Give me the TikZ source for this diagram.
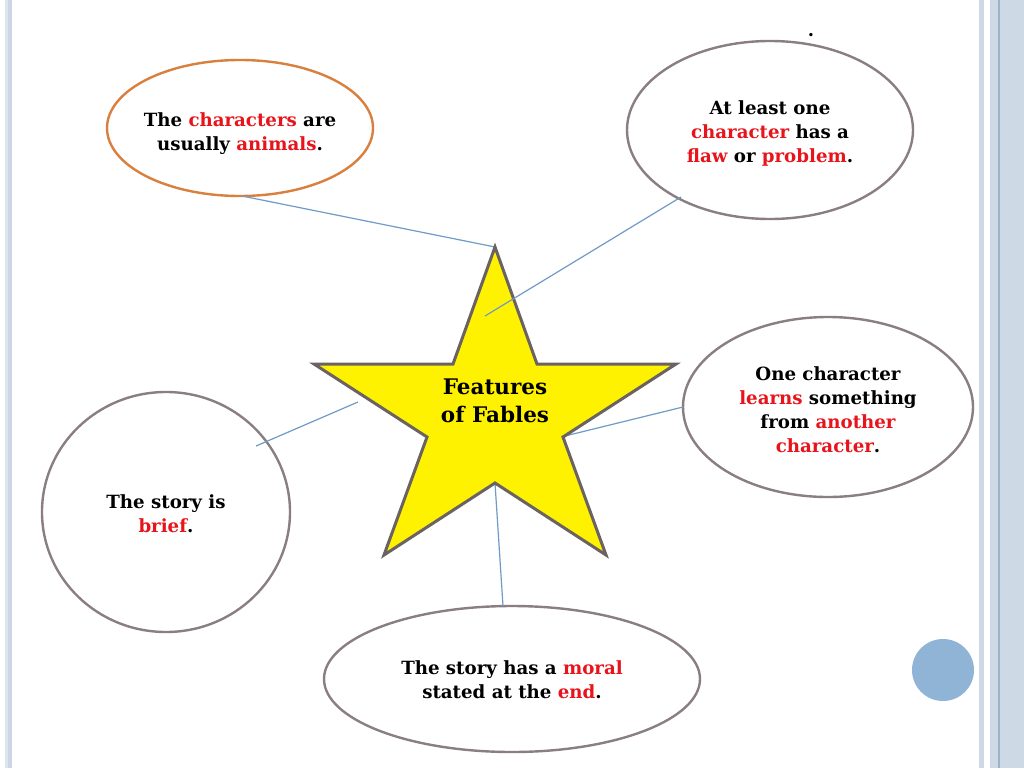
\documentclass[tikz,border=0pt]{standalone}
\usepackage{fontspec}
\setmainfont{DejaVu Serif}
\definecolor{bar}{HTML}{CDD9E5}
\definecolor{barl}{HTML}{DCE6EE}
\definecolor{barm}{HTML}{CDD6E8}
\definecolor{bard}{HTML}{9FB2C6}
\definecolor{edge}{HTML}{8A7E80}
\definecolor{orng}{HTML}{D9803E}
\definecolor{conn}{HTML}{6F9BC6}
\definecolor{txtred}{HTML}{E8141B}
\definecolor{dotblue}{HTML}{8FB4D6}
\definecolor{stedge}{HTML}{6B6262}
\newcommand{\rd}[1]{\textcolor{txtred}{#1}}
\tikzset{
  bubble/.style={draw=edge, line width=2.4pt, fill=white},
  txt/.style={align=center, font=\bfseries\fontsize{18.2}{24}\selectfont, text=black},
  conline/.style={draw=conn, line width=1.2pt},
}
\begin{document}
\begin{tikzpicture}[x=1pt,y=-1pt]
\useasboundingbox (0,0) rectangle (1024,768);
\fill[white] (0,0) rectangle (1024,768);
% side bars
\fill[barl] (5,0) rectangle (8,768);
\fill[barm] (8,0) rectangle (12,768);
\fill[bar] (979,0) rectangle (984,768);
\fill[bar] (990,0) rectangle (1024,768);
\fill[bard] (998,0) rectangle (999.5,768);
% connectors (behind)
\coordinate (c1a) at (242,196); \coordinate (c1b) at (495,247);
\coordinate (c2a) at (681,197); \coordinate (c2b) at (485,316);
\coordinate (c3a) at (256,446); \coordinate (c3b) at (358,402);
\coordinate (c4a) at (683,407); \coordinate (c4b) at (565,436);
\coordinate (c5a) at (503,606); \coordinate (c5b) at (495,483);
% ellipses
\draw[bubble, draw=orng] (240,128) ellipse [x radius=133, y radius=68];
\node[txt] (e1) at (240,133.5) {The \rd{characters} are\\usually \rd{animals}.};
\draw[bubble] (770,130) ellipse [x radius=143, y radius=89];
\node[txt] (e2) at (770,133) {At least one\\\rd{character} has a\\\rd{flaw} or \rd{problem}.};
\draw[bubble] (828,407) ellipse [x radius=145, y radius=90];
\node[txt] (e3) at (828,410) {One character\\\rd{learns} something\\from \rd{another}\\\rd{character}.};
\draw[bubble] (166,512) ellipse [x radius=124, y radius=120];
\node[txt] (e4) at (166,514) {The story is\\\rd{brief}.};
\draw[bubble] (512,679) ellipse [x radius=188, y radius=73];
\node[txt] (e5) at (512,680) {The story has a \rd{moral}\\stated at the \rd{end}.};
% connectors
\draw[conline] (c1a) -- (c1b);
\draw[conline] (c3a) -- (c3b);
\draw[conline] (c4a) -- (c4b);
\draw[conline] (c5a) -- (c5b);
% star
\draw[fill=yellow, draw=stedge, line width=3pt, line join=miter]
  (495,247) -- (537,364) -- (676,364) -- (563,437) -- (606,555) -- (495,483)
  -- (384,555) -- (427,437) -- (314,364) -- (453,364) -- cycle;
\node[txt, font=\bfseries\fontsize{21.5}{28}\selectfont] (star) at (495,401) {Features\\of Fables};
\draw[conline] (c2a) -- (c2b);
% dot
\node[font=\bfseries\fontsize{18}{20}\selectfont, anchor=base, inner sep=0pt] (dot) at (811,37) {.};
\fill[dotblue] (943,670) circle (31);
\end{tikzpicture}
\end{document}
